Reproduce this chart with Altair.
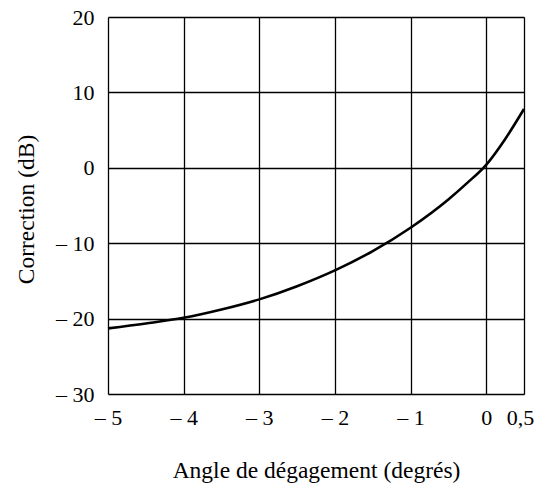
import altair as alt
import pandas as pd

angle = [-5, -4.5, -4, -3.5, -3, -2.5, -2, -1.5, -1, -0.5, -0.25, 0, 0.25, 0.5]
correction = [-21.3, -20.65, -19.9, -18.8, -17.45, -15.7, -13.6, -11.05, -7.95, -4.2, -2.0, 0.4, 3.8, 7.8]
x_ticks = [-5, -4, -3, -2, -1, 0, 0.5]
y_ticks = [-30, -20, -10, 0, 10, 20]

df = pd.DataFrame({"angle": angle, "correction": correction})

FONT = "'Liberation Serif', 'Times New Roman', 'DejaVu Serif', serif"

chart = alt.Chart(df).mark_line(color="black", strokeWidth=2.6, interpolate="monotone").encode(
    x=alt.X("angle:Q",
            scale=alt.Scale(domain=[-5, 0.5], nice=False, zero=False),
            axis=alt.Axis(values=x_ticks, title="Angle de dégagement (degrés)",
                          labelExpr="datum.value == 0.5 ? '0,5' : (datum.value < 0 ? '– ' + abs(datum.value) : '' + datum.value)",
                          grid=True, gridColor="black", gridOpacity=1, gridWidth=1.3,
                          ticks=False, domain=False, labelPadding=13,
                          labelOffset=alt.condition("datum.value == 0.5", alt.value(-4), alt.value(0)),
                          labelFont=FONT, labelFontSize=22, labelColor="black",
                          titleFont=FONT, titleFontSize=23.5, titleFontWeight="normal", titleColor="black",
                          titleBaseline="alphabetic", titleY=83, labelFlush=False)),
    y=alt.Y("correction:Q",
            scale=alt.Scale(domain=[-30, 20], nice=False, zero=False),
            axis=alt.Axis(values=y_ticks, title="Correction (dB)",
                          labelExpr="datum.value < 0 ? '– ' + abs(datum.value) : '' + datum.value",
                          grid=True, gridColor="black", gridOpacity=1, gridWidth=1.3,
                          ticks=False, domain=False, labelPadding=14,
                          labelFont=FONT, labelFontSize=22, labelColor="black",
                          titleFont=FONT, titleFontSize=23.5, titleFontWeight="normal", titleColor="black",
                          titleBaseline="alphabetic", titleX=-75, titleY=192, titleAngle=-90,
                          labelFlush=False)),
).properties(
    width=416,
    height=377,
    autosize=alt.AutoSizeParams(type="none"),
    padding={"left": 100, "top": 9, "right": 10, "bottom": 90},
).configure_view(
    stroke="black", strokeWidth=1.6
).configure(background="white")

chart.save("out.html", embed_options={"renderer": "svg", "actions": False})
